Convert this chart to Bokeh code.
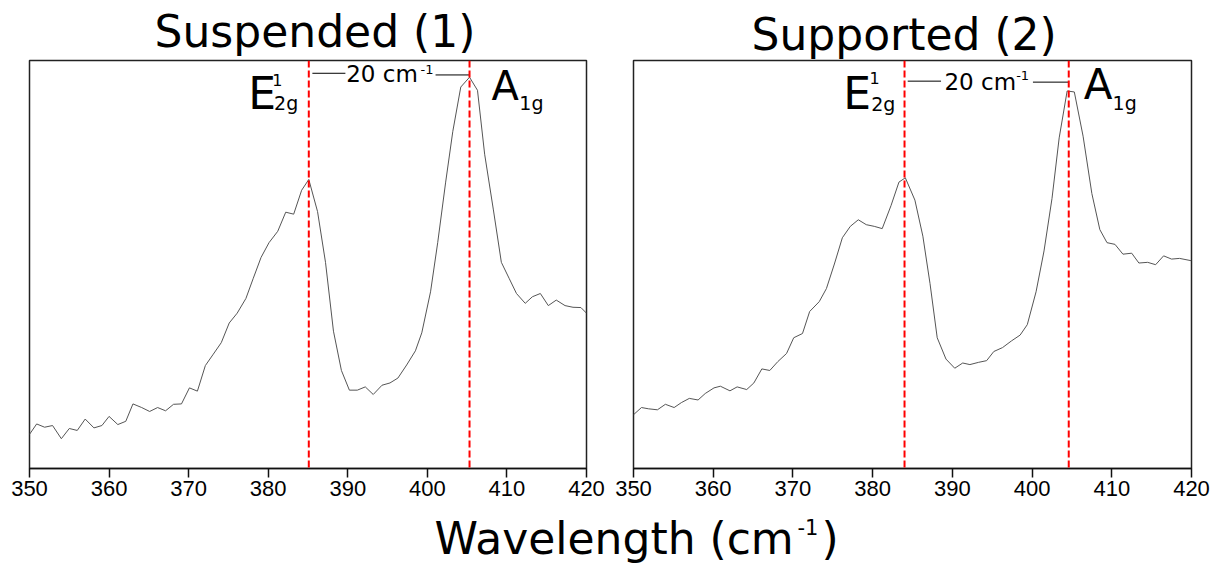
from bokeh.plotting import figure
from bokeh.models import Range1d, Span, Label, FixedTicker
from bokeh.layouts import column, row
from bokeh.embed import file_html
from bokeh.resources import INLINE

# ---------------- data ----------------
x_ticks = [350, 360, 370, 380, 390, 400, 410, 420]

wn_suspended = [350.0, 350.9, 351.9, 352.9, 354.0, 355.0, 356.0, 357.0, 358.1, 359.1,
                360.0, 361.1, 362.1, 363.0, 364.1, 365.1, 366.1, 367.1, 368.1, 369.1,
                370.1, 371.1, 372.1, 373.1, 374.1, 375.1, 376.1, 377.2, 378.1, 379.1,
                380.1, 381.2, 382.2, 383.2, 384.2, 385.1, 386.2, 387.2, 388.2, 389.2,
                390.2, 391.2, 392.2, 393.2, 394.3, 395.3, 396.3, 397.4, 398.5, 399.3,
                400.4, 401.3, 402.3, 403.2, 404.2, 405.3, 406.3, 407.2, 408.3, 409.3,
                410.3, 411.2, 412.3, 413.2, 414.2, 415.2, 416.2, 417.3, 418.3, 419.3, 420.0]
int_suspended = [33.7, 44.3, 41, 42.7, 29.3, 39.7, 37.7, 49.3, 40.3, 42.7,
                 52, 43.7, 47, 64.7, 61, 57, 61, 57.7, 64.3, 64.7,
                 81, 77.7, 103.7, 115.3, 127, 147, 157, 172, 192, 213.7,
                 228.7, 240.3, 259.7, 257.7, 282, 293, 260.3, 208.7, 138.7, 98.7,
                 78.7, 78.7, 82, 74.3, 83.7, 86, 91, 104.3, 118.7, 137,
                 178.7, 228.7, 290.3, 342, 387, 397, 383.7, 318.7, 262, 208.7,
                 192, 177, 167, 173.7, 177, 164.7, 170.3, 164.7, 163, 162.7, 157]

wn_supported = [350.0, 351.0, 351.9, 353.0, 354.0, 355.1, 356.0, 357.0, 358.1, 359.0,
                360.1, 360.9, 362.1, 363.0, 364.2, 365.1, 366.1, 367.1, 368.1, 369.2,
                370.1, 371.2, 372.1, 373.3, 374.2, 375.2, 376.2, 377.2, 378.2, 379.2,
                380.2, 381.2, 382.3, 383.3, 384.1, 385.3, 386.3, 387.2, 388.1, 389.2,
                390.3, 391.3, 392.2, 393.3, 394.3, 395.2, 396.3, 397.4, 398.5, 399.4,
                400.5, 401.5, 402.5, 403.4, 404.4, 405.3, 406.4, 407.5, 408.5, 409.4,
                410.4, 411.4, 412.5, 413.4, 414.5, 415.5, 416.5, 417.5, 418.5, 420.0]
int_supported = [53.7, 61, 59.7, 58.7, 64.3, 61, 66, 70.3, 68.7, 75.3,
                 81, 82.7, 78, 82, 79.3, 86, 100.3, 98.7, 107.7, 116,
                 132, 136.3, 158.7, 168.7, 182, 207, 233.7, 245.3, 252, 247,
                 245.3, 243, 266.3, 290.3, 294.7, 272, 235.3, 187, 132, 110.3,
                 101, 106.3, 104.7, 107, 108.7, 118, 122, 128.7, 134.7, 145.3,
                 178.7, 220.3, 273.7, 335.3, 383, 382, 337, 278.7, 242, 228.7,
                 227, 217, 218, 208, 208.7, 206.3, 215.3, 212, 212.7, 210.3]

peaks_suspended = [385.1, 405.3]   # E2g, A1g
peaks_supported = [384.0, 404.6]

titles = ["Suspended (1)", "Supported (2)"]
x_label = "Wavelength (cm"

FONT = "DejaVu Sans"
MID = 0.35   # baseline -> middle shift, in font sizes
TOP_H = 512  # height of the two panels


def panel(wn, inten, peaks, title, bl, br, bt, bb, standoff, toffset, pos):
    p = figure(width=608, height=TOP_H, title=title,
               x_range=Range1d(350, 420), y_range=Range1d(-1, 414),
               y_axis_location=None, toolbar_location=None, output_backend="svg",
               min_border_left=bl, min_border_right=br,
               min_border_top=bt, min_border_bottom=bb)
    p.title.text_font = FONT
    p.title.text_font_size = "44px"
    p.title.text_font_style = "normal"
    p.title.text_color = "black"
    p.title.align = "left"
    p.title.offset = toffset
    p.title.standoff = standoff
    p.background_fill_color = "white"
    p.border_fill_color = "white"
    p.outline_line_color = "#222222"
    p.outline_line_width = 1.5
    p.xgrid.visible = False
    p.ygrid.visible = False
    ax = p.xaxis[0]
    ax.ticker = FixedTicker(ticks=x_ticks)
    ax.axis_label = None
    ax.axis_label_standoff = 0
    ax.major_tick_out = 9
    ax.major_tick_in = 0
    ax.minor_tick_out = 0
    ax.minor_tick_in = 0
    ax.axis_line_width = 1.5
    ax.axis_line_color = "#111111"
    ax.major_tick_line_width = 1.5
    ax.major_tick_line_color = "#111111"
    ax.major_label_text_font = "Liberation Sans"
    ax.major_label_text_font_size = "22px"
    ax.major_label_text_color = "black"
    ax.major_label_standoff = 3

    p.line(wn, inten, line_color="#555555", line_width=1)
    for pk in peaks:
        p.add_layout(Span(location=pk, dimension="height", line_color="#ff0000",
                          line_width=2, line_dash="7 3"))

    def lab(x, y, t, size):
        p.add_layout(Label(x=x, y=y + MID * size, text=t, text_font=FONT,
                           text_font_size=f"{size}px", text_color="black",
                           text_align="left", text_baseline="middle"))

    lab(pos["E"][0], pos["E"][1], "E", 44)
    lab(pos["Esup"][0], pos["Esup"][1], "1", 16)
    lab(pos["Esub"][0], pos["Esub"][1], "2g", 19)
    lab(pos["A"][0], pos["A"][1], "A", pos["Asize"])
    lab(pos["Asub"][0], pos["Asub"][1], "1g", 19)
    lab(pos["txt"][0], pos["txt"][1], "20 cm", 23)
    lab(pos["txtsup"][0], pos["txtsup"][1], "-1", 13)
    (s1, s2) = pos["segs"]
    p.segment(x0=[s1[0], s2[0]], y0=[s1[2], s2[2]], x1=[s1[1], s2[1]], y1=[s1[2], s2[2]],
              line_color="black", line_width=1)
    return p


pos1 = dict(E=(377.5, 365.3), Esup=(380.5, 388.7), Esub=(380.74, 364),
            A=(408.06, 373.7), Asize=40, Asub=(411.56, 364),
            txt=(389.8, 392.7), txtsup=(399.14, 400),
            segs=((peaks_suspended[0] + 0.45, 389.7, 401), (401.03, peaks_suspended[1], 399.3)))
pos2 = dict(E=(376.32, 365.3), Esup=(379.6, 390.3), Esub=(379.82, 363),
            A=(406.47, 375.3), Asize=42, Asub=(410.10, 364.5),
            txt=(389.01, 384.3), txtsup=(398.0, 394),
            segs=((peaks_supported[0] + 0.4, 388.58, 393), (400.11, peaks_supported[1], 392)))

p1 = panel(wn_suspended, int_suspended, peaks_suspended, titles[0], 29, 22, 58, TOP_H - 473, 7, 125, pos1)
p2 = panel(wn_supported, int_supported, peaks_supported, titles[1], 25, 25, 53, TOP_H - 468, 2, 118, pos2)

BOT_H = 566 - TOP_H
p3 = figure(width=1216, height=BOT_H, title=None, x_range=Range1d(0, 1216), y_range=Range1d(BOT_H, 0),
            x_axis_location=None, y_axis_location=None, toolbar_location=None,
            output_backend="svg", min_border=0)
p3.outline_line_color = None
p3.xgrid.visible = False
p3.ygrid.visible = False
# baselines relative to the top of this strip
for x, yb, t, s in [(434, 41, x_label, 44), (797, 21.5, "-1", 21), (821, 41, ")", 44)]:
    p3.add_layout(Label(x=x, y=yb - MID * s, text=t, text_font=FONT, text_font_size=f"{s}px",
                        text_color="black", text_baseline="middle"))

layout = column(row(p1, p2), p3)
open("out.html", "w").write(file_html(layout, INLINE))
